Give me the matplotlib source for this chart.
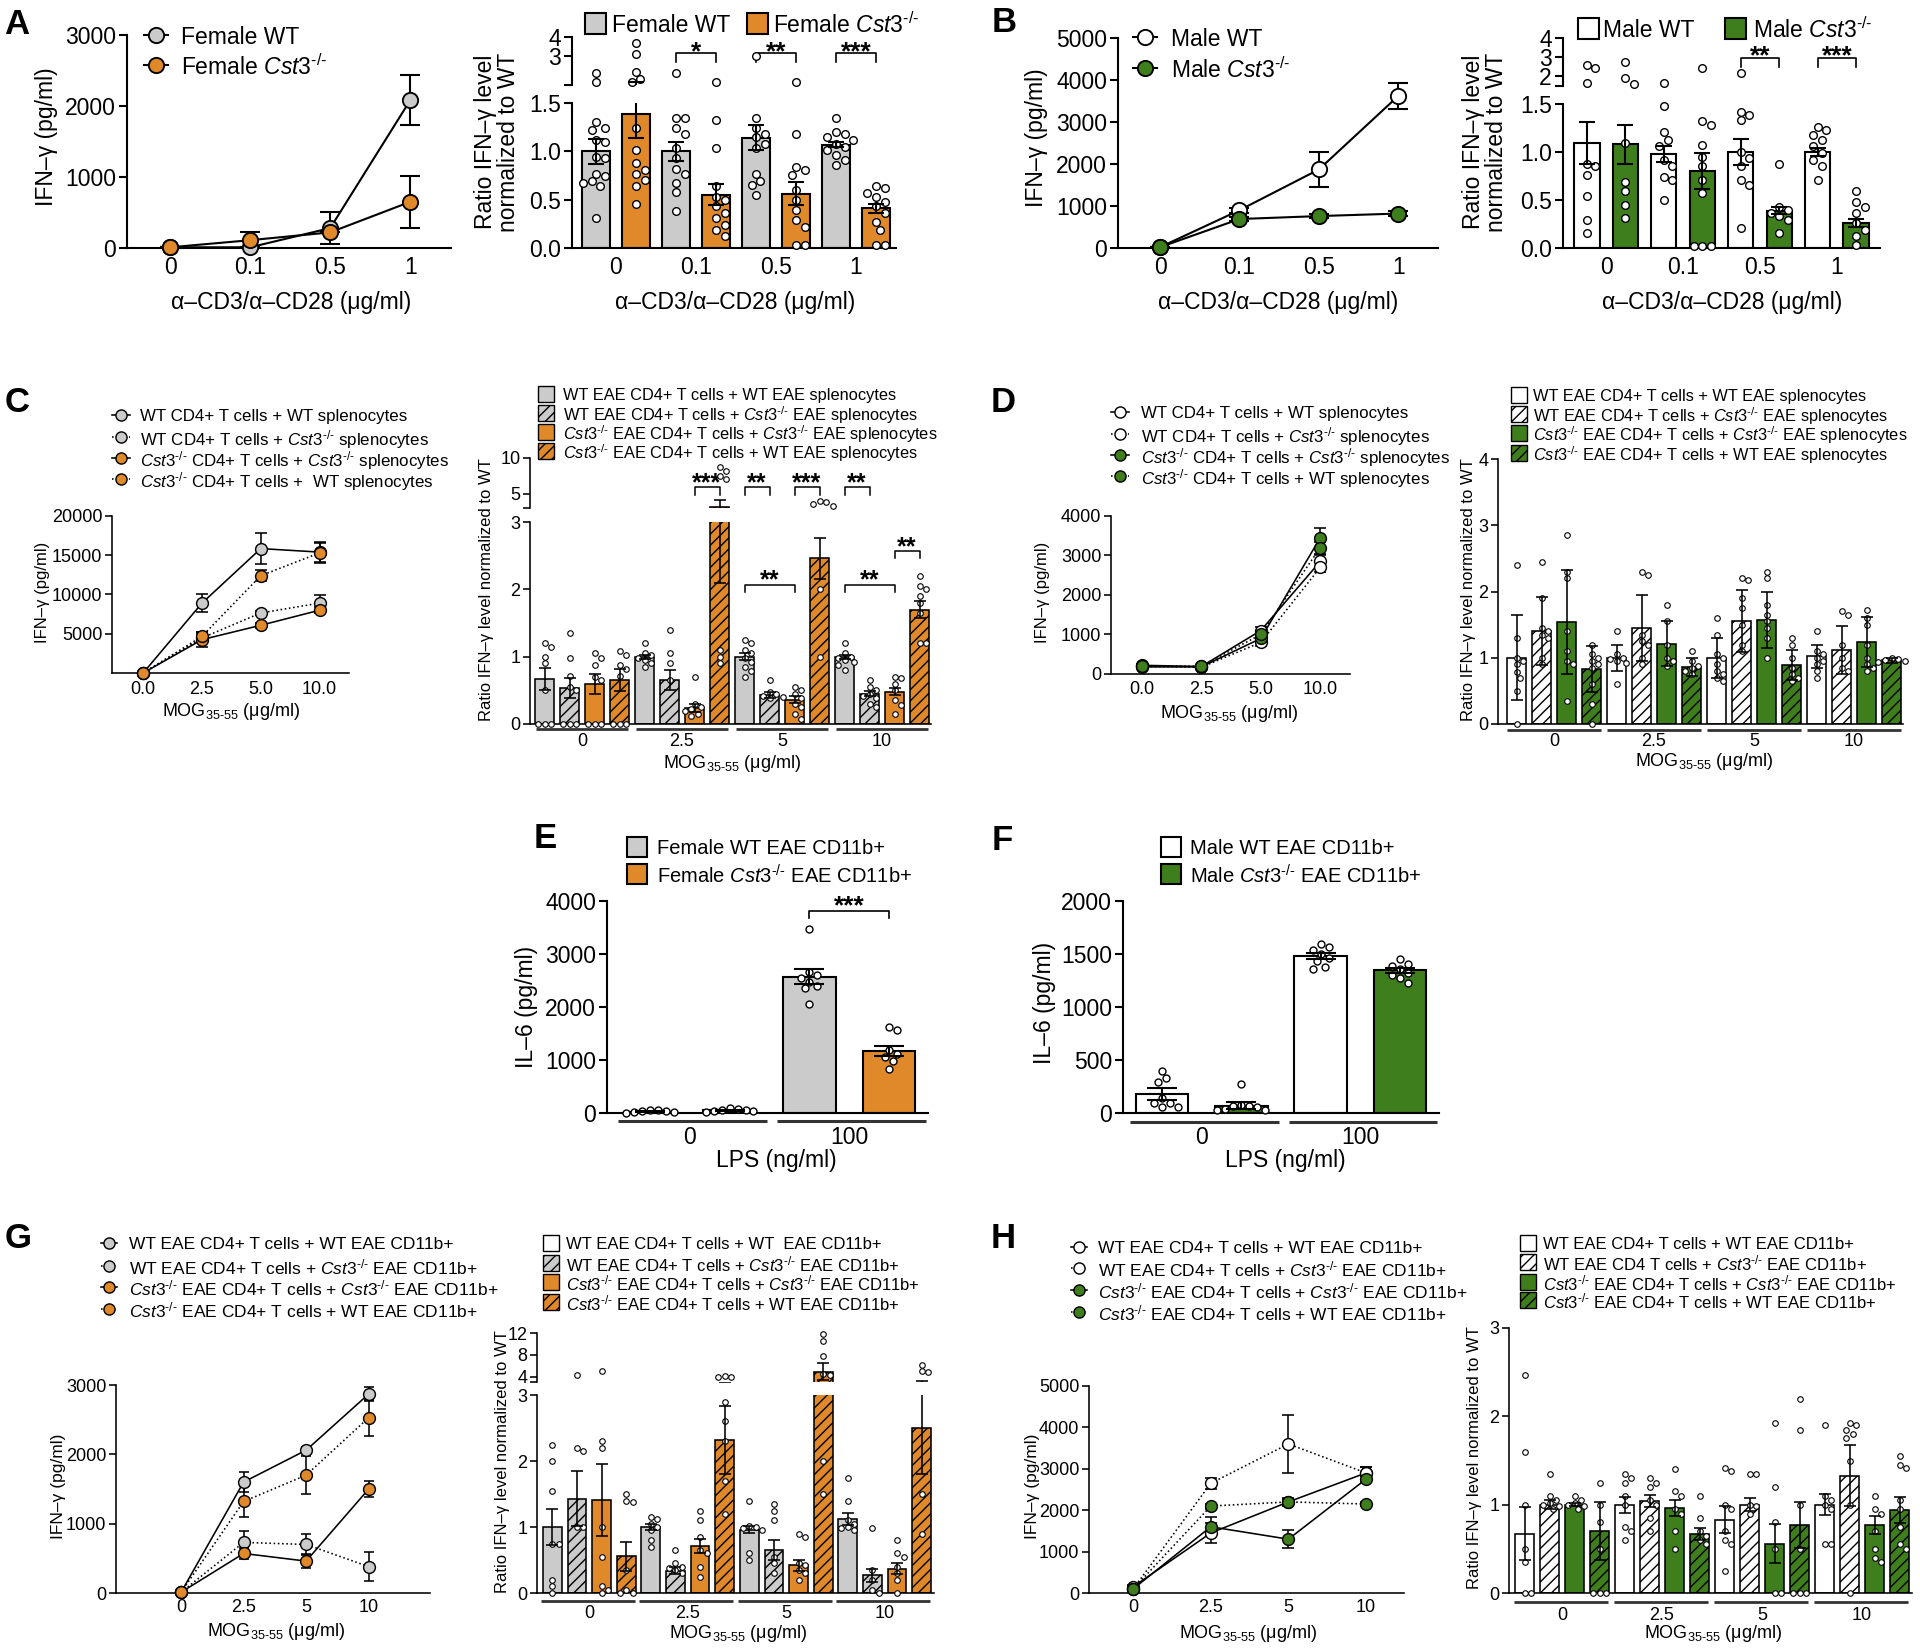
import numpy as np
import matplotlib
matplotlib.use("Agg")
import matplotlib.pyplot as plt
from matplotlib.patches import Rectangle

plt.rcParams['font.family'] = ['Liberation Sans', 'DejaVu Sans']
plt.rcParams['mathtext.fontset'] = 'custom'
plt.rcParams['mathtext.rm'] = 'Liberation Sans'
plt.rcParams['mathtext.it'] = 'Liberation Sans:italic'
plt.rcParams['mathtext.bf'] = 'Liberation Sans:bold'
plt.rcParams['mathtext.sf'] = 'Liberation Sans'
plt.rcParams['hatch.linewidth'] = 1.0

GRAY = '#cbcbcb'
ORANGE = '#e0892b'
GREEN = '#3f7e1d'
WHITE = '#ffffff'
KO = r'$\mathit{Cst3}^{\text{-/-}}$'
MOG = r'MOG$_{\text{35-55}}$ (μg/ml)'
CD3 = 'α–CD3/α–CD28 (μg/ml)'

# ============================ DATA ============================
DOSE_CD3 = ['0', '0.1', '0.5', '1']
MOG_C = ['0.0', '2.5', '5.0', '10.0']
MOG_G = ['0', '2.5', '5', '10']
LPS = ['0', '100']

# ---- A (female) ----
A_wt = [10, 10, 280, 2080]
A_wt_sem = [0, 0, 225, 350]
A_ko = [10, 110, 220, 650]
A_ko_sem = [0, 120, 0, 370]
A_bar_wt = [1.00, 1.00, 1.14, 1.07]
A_bar_wt_sem = [0.13, 0.10, 0.13, 0.03]
A_bar_ko = [1.39, 0.55, 0.56, 0.41]
A_bar_ko_sem = [0.25, 0.11, 0.12, 0.05]
A_dots_wt = [[2.15, 1.64, 1.30, 1.24, 1.22, 1.12, 1.10, 0.94, 0.93, 0.77, 0.74, 0.69, 0.67, 0.64, 0.31],
             [2.15, 1.34, 1.34, 1.24, 1.18, 1.03, 0.93, 0.82, 0.77, 0.67, 0.58, 0.38],
             [3.0, 1.34, 1.24, 1.18, 1.15, 1.08, 1.03, 0.77, 0.69, 0.65, 0.55],
             [1.34, 1.20, 1.18, 1.15, 1.12, 1.08, 1.05, 1.01, 0.96, 0.91, 0.86]]
A_dots_ko = [[3.7, 3.1, 2.2, 1.8, 1.65, 1.24, 1.01, 0.88, 0.81, 0.77, 0.70, 0.64, 0.46],
             [1.64, 1.32, 1.03, 0.64, 0.53, 0.50, 0.43, 0.36, 0.31, 0.24, 0.19, 0.12],
             [1.64, 1.18, 0.84, 0.81, 0.76, 0.60, 0.50, 0.39, 0.29, 0.22, 0.03, 0.03],
             [0.64, 0.62, 0.57, 0.53, 0.48, 0.43, 0.36, 0.27, 0.19, 0.03, 0.03]]

# ---- B (male) ----
B_wt = [20, 900, 1870, 3620]
B_wt_sem = [0, 60, 420, 300]
B_ko = [20, 690, 760, 820]
B_ko_sem = [0, 50, 40, 50]
B_bar_wt = [1.09, 0.98, 1.00, 1.00]
B_bar_wt_sem = [0.22, 0.08, 0.14, 0.04]
B_bar_ko = [1.08, 0.80, 0.39, 0.26]
B_bar_ko_sem = [0.20, 0.19, 0.04, 0.04]
B_dots_wt = [[2.58, 2.42, 1.67, 0.88, 0.85, 0.76, 0.54, 0.29, 0.16],
             [1.67, 1.48, 1.21, 1.13, 1.06, 0.92, 0.85, 0.74, 0.71, 0.50],
             [2.17, 1.42, 1.39, 1.33, 1.00, 0.94, 0.85, 0.71, 0.66, 0.21],
             [1.26, 1.23, 1.18, 1.13, 1.06, 0.99, 0.92, 0.85, 0.71]]
B_dots_ko = [[2.75, 1.92, 1.58, 1.09, 0.69, 0.59, 0.45, 0.31],
             [2.42, 1.32, 1.28, 1.07, 0.95, 0.85, 0.71, 0.57, 0.02, 0.02, 0.02],
             [0.87, 0.43, 0.40, 0.36, 0.33, 0.29, 0.16],
             [0.59, 0.48, 0.43, 0.36, 0.26, 0.19, 0.12, 0.03]]

# ---- C (female co-culture) ----
C_wtwt = [0, 8900, 15850, 15400]
C_wtwt_sem = [0, 1100, 2000, 1300]
C_wtko = [0, 4460, 7650, 8900]
C_wtko_sem = [0, 500, 300, 1000]
C_koko = [0, 4250, 6080, 8000]
C_koko_sem = [0, 1000, 300, 400]
C_kowt = [0, 4670, 12400, 15300]
C_kowt_sem = [0, 500, 700, 1300]
C_bar_wtwt = [0.67, 1.00, 1.00, 1.00]
C_bar_wtwt_sem = [0.16, 0.03, 0.05, 0.03]
C_bar_wtko = [0.53, 0.65, 0.43, 0.45]
C_bar_wtko_sem = [0.15, 0.15, 0.04, 0.04]
C_bar_koko = [0.59, 0.24, 0.36, 0.48]
C_bar_koko_sem = [0.15, 0.06, 0.05, 0.05]
C_bar_kowt = [0.65, 3.10, 2.46, 1.70]
C_bar_kowt_sem = [0.16, 1.00, 0.30, 0.12]
C_dots_wtwt = [[1.2, 1.15, 1.0, 0.9, 0.5, 0, 0, 0], [1.2, 1.05, 1.02, 0.98, 0.95, 0.9, 0.85],
               [1.25, 1.2, 1.1, 1.05, 0.98, 0.92, 0.85, 0.78, 0.7], [1.2, 1.05, 1.0, 0.98, 0.95, 0.92, 0.88, 0.8]]
C_dots_wtko = [[1.35, 0.98, 0.72, 0.55, 0.5, 0, 0, 0], [1.4, 1.05, 0.9, 0.65],
               [0.65, 0.48, 0.45, 0.42, 0.4, 0.38], [0.65, 0.55, 0.5, 0.45, 0.42, 0.38, 0.3, 0.25]]
C_dots_koko = [[1.05, 0.98, 0.88, 0.7, 0.65, 0, 0, 0], [0.7, 0.3, 0.25, 0.22, 0.2, 0.15, 0.12],
               [0.55, 0.5, 0.45, 0.38, 0.3, 0.25, 0.15, 0.08], [0.7, 0.68, 0.6, 0.5, 0.35, 0.28, 0.15]]
C_dots_kowt = [[1.08, 1.02, 0.88, 0.82, 0.72, 0, 0, 0], [8.8, 8.2, 7.5, 7.0, 1.1, 1.0, 0.9],
               [4.0, 3.8, 3.6, 3.3, 2.0, 1.0], [2.2, 2.05, 2.0, 1.9, 1.8, 1.65, 1.2, 1.2]]

# ---- D (male co-culture) ----
D_wtwt = [220, 190, 1100, 2850]
D_wtwt_sem = [30, 20, 100, 150]
D_wtko = [200, 170, 800, 2700]
D_wtko_sem = [30, 20, 80, 130]
D_koko = [180, 180, 900, 3450]
D_koko_sem = [30, 20, 80, 250]
D_kowt = [190, 200, 1000, 3200]
D_kowt_sem = [30, 20, 80, 150]
D_bar_wtwt = [1.00, 1.00, 1.00, 1.02]
D_bar_wtwt_sd = [0.64, 0.20, 0.30, 0.17]
D_bar_wtko = [1.40, 1.45, 1.56, 1.12]
D_bar_wtko_sd = [0.51, 0.50, 0.47, 0.36]
D_bar_koko = [1.54, 1.21, 1.57, 1.24]
D_bar_koko_sd = [0.78, 0.34, 0.43, 0.38]
D_bar_kowt = [0.83, 0.86, 0.89, 0.96]
D_bar_kowt_sd = [0.34, 0.13, 0.23, 0.04]
D_dots_wtwt = [[2.4, 1.3, 1.0, 0.95, 0.9, 0.78, 0.7, 0.5, 0.0], [1.4, 1.05, 1.0, 0.98, 0.95, 0.92, 0.6],
               [1.6, 1.35, 1.05, 1.0, 0.9, 0.8, 0.75, 0.7, 0.65], [1.4, 1.1, 1.05, 1.0, 0.95, 0.9, 0.8, 0.7]]
D_dots_wtko = [[2.45, 1.9, 1.45, 1.4, 1.35, 1.3, 1.0, 0.9], [2.3, 2.25, 1.35, 1.25, 1.2, 1.0, 0.9],
               [2.2, 2.18, 1.9, 1.75, 1.5, 1.2, 1.1], [1.7, 1.65, 1.2, 1.0, 0.85, 0.8]]
D_dots_koko = [[2.85, 2.3, 2.2, 1.4, 1.1, 0.95, 0.9, 0.35], [1.8, 1.55, 1.2, 1.0, 0.95, 0.88],
               [2.3, 2.2, 1.8, 1.65, 1.55, 1.45, 1.3, 1.0], [1.72, 1.6, 1.5, 1.2, 1.0, 0.9, 0.85, 0.8]]
D_dots_kowt = [[1.2, 1.05, 1.0, 0.95, 0.9, 0.85, 0.6, 0.3, 0.0], [1.1, 0.95, 0.88, 0.85, 0.8, 0.75],
               [1.3, 1.2, 1.0, 0.85, 0.75, 0.7, 0.65], [1.0, 0.98, 0.96, 0.95, 0.93]]

# ---- E / F (IL-6) ----
E_wt = [20, 2570]
E_wt_sem = [10, 140]
E_ko = [50, 1170]
E_ko_sem = [10, 100]
E_dots_wt = [[0, 10, 20, 30, 50, 60, 40], [3480, 2660, 2600, 2550, 2480, 2400, 2350, 2050]]
E_dots_ko = [[20, 40, 60, 80, 100, 30, 50], [1620, 1560, 1180, 1120, 1050, 980, 830]]
F_wt = [180, 1480]
F_wt_sem = [55, 30]
F_ko = [70, 1345]
F_ko_sem = [30, 20]
F_dots_wt = [[400, 330, 290, 140, 90, 60, 60, 90], [1590, 1570, 1540, 1500, 1460, 1430, 1380, 1360]]
F_dots_ko = [[270, 75, 65, 40, 25, 70, 55, 30], [1450, 1410, 1390, 1360, 1320, 1300, 1270, 1230]]

# ---- G (female CD11b co-culture) ----
G_wtwt = [10, 1600, 2060, 2870]
G_wtwt_sem = [0, 150, 40, 100]
G_wtko = [10, 730, 700, 380]
G_wtko_sem = [0, 170, 150, 210]
G_koko = [10, 570, 460, 1500]
G_koko_sem = [0, 80, 100, 110]
G_kowt = [10, 1320, 1700, 2530]
G_kowt_sem = [0, 230, 270, 260]
G_bar_wtwt = [1.00, 1.00, 0.96, 1.12]
G_bar_wtwt_sem = [0.27, 0.05, 0.05, 0.09]
G_bar_wtko = [1.43, 0.34, 0.65, 0.27]
G_bar_wtko_sem = [0.42, 0.05, 0.15, 0.10]
G_bar_koko = [1.41, 0.71, 0.42, 0.37]
G_bar_koko_sem = [0.55, 0.11, 0.08, 0.08]
G_bar_kowt = [0.56, 2.32, 4.9, 2.50]
G_bar_kowt_sem = [0.22, 0.52, 1.6, 0.70]
G_dots_wtwt = [[2.25, 2.0, 1.55, 0.75, 0.75, 0.2, 0.1, 0.0], [1.15, 1.12, 1.05, 1.0, 0.95, 0.8, 0.7],
               [1.4, 1.02, 1.0, 0.98, 0.95, 0.6, 0.5], [1.75, 1.4, 1.1, 1.05, 1.0, 0.98, 0.95]]
G_dots_wtko = [[4.3, 2.2, 2.15, 1.0, 1.0], [0.65, 0.45, 0.4, 0.38, 0.35, 0.3],
               [1.35, 1.25, 1.1, 0.55, 0.45, 0.3], [0.98, 0.35, 0.2, 0.05, 0.0]]
G_dots_koko = [[5.1, 2.3, 2.2, 1.0, 0.55, 0.1, 0.05, 0.0], [1.25, 1.1, 0.85, 0.65, 0.6, 0.4, 0.25],
               [0.9, 0.85, 0.45, 0.42, 0.35, 0.3, 0.2], [0.8, 0.6, 0.55, 0.4, 0.3, 0.2, 0.0]]
G_dots_kowt = [[1.5, 1.4, 1.38, 0.35, 0.05, 0.0, 0.0], [4.1, 4.0, 3.9, 2.9, 2.6, 2.3, 1.7, 1.2],
               [11.8, 10.6, 7.7, 4.5, 4.2, 2.0, 1.5], [6.2, 5.0, 4.9, 1.5, 0.9]]

# ---- H (male CD11b co-culture) ----
H_wtwt = [150, 1450, 2200, 2900]
H_wtwt_sem = [40, 250, 100, 150]
H_wtko = [100, 2650, 3600, 2900]
H_wtko_sem = [30, 130, 700, 150]
H_koko = [100, 1600, 1300, 2750]
H_koko_sem = [30, 230, 220, 80]
H_kowt = [100, 2100, 2200, 2150]
H_kowt_sem = [30, 60, 80, 60]
H_bar_wtwt = [0.67, 1.00, 0.83, 1.00]
H_bar_wtwt_sem = [0.30, 0.09, 0.15, 0.12]
H_bar_wtko = [1.00, 1.04, 1.00, 1.33]
H_bar_wtko_sem = [0.05, 0.07, 0.07, 0.35]
H_bar_koko = [1.00, 0.96, 0.56, 0.77]
H_bar_koko_sem = [0.02, 0.09, 0.22, 0.10]
H_bar_kowt = [0.70, 0.67, 0.77, 0.94]
H_bar_kowt_sem = [0.33, 0.07, 0.26, 0.15]
H_dots_wtwt = [[2.47, 1.6, 1.0, 0.5, 0.35, 0.0, 0.0], [1.35, 1.3, 1.25, 1.1, 1.0, 0.75, 0.7, 0.6],
               [1.42, 1.38, 1.0, 0.95, 0.7, 0.6, 0.55, 0.25], [1.9, 1.1, 1.05, 1.0, 0.95, 0.55, 0.55]]
H_dots_wtko = [[1.35, 1.1, 1.05, 1.02, 1.0, 0.98, 0.95], [1.3, 1.25, 1.2, 1.05, 1.0, 0.85, 0.7],
               [1.35, 1.35, 1.0, 0.98, 0.9], [1.92, 1.9, 1.85, 1.8, 1.75, 1.5, 1.0, 0.0]]
H_dots_koko = [[1.1, 1.05, 1.02, 1.0, 0.98, 0.95], [1.4, 1.15, 1.1, 0.95, 0.9, 0.7, 0.5],
               [1.92, 1.2, 0.8, 0.5, 0.0, 0.0], [1.1, 0.95, 0.9, 0.7, 0.5, 0.4, 0.35]]
H_dots_kowt = [[1.25, 1.0, 0.8, 0.5, 0.0, 0.0, 0.0], [1.1, 0.85, 0.7, 0.65, 0.6, 0.55],
               [2.2, 1.85, 1.0, 0.5, 0.0, 0.0, 0.0], [1.55, 1.45, 1.42, 1.05, 0.95, 0.75, 0.55, 0.5]]

# ============================ FIGURE ============================
W, H = 1920, 1652
fig = plt.figure(figsize=(W / 100, H / 100), dpi=100)
ov = fig.add_axes([0, 0, 1, 1])
ov.set_xlim(0, W)
ov.set_ylim(H, 0)
ov.axis('off')
ov.patch.set_alpha(0)


def add_ax(l, t, r, b, lw, tl):
    ax = fig.add_axes([l / W, 1 - b / H, (r - l) / W, (b - t) / H])
    ax.patch.set_alpha(0)
    for s in ['top', 'right']:
        ax.spines[s].set_visible(False)
    for s in ['left', 'bottom']:
        ax.spines[s].set_linewidth(lw)
    ax.tick_params(axis='y', direction='out', length=tl, width=lw, pad=2)
    ax.tick_params(axis='x', length=0)
    return ax


def T(x, y, s, fs, **kw):
    kw.setdefault('ha', 'center')
    kw.setdefault('va', 'center')
    ov.text(x, y, s, fontsize=fs, **kw)


def line_panel(box, xlim, ylim, yticks, ytl, series, labels, lab_y, fs, ms, cap, lw, tl):
    l, t, r, b = box
    ax = add_ax(l, t, r, b, lw, tl)
    x = np.arange(len(labels))
    for s in series:
        ax.errorbar(x, s['y'], yerr=s['e'], fmt='none', ecolor='k', elinewidth=lw,
                    capsize=cap, capthick=lw, zorder=3)
        ax.plot(x, s['y'], ls=s['ls'], color='k', lw=lw, marker='o', ms=ms, mfc=s['fc'],
                mec='k', mew=lw * 0.9, clip_on=False, zorder=4)
    ax.set_xlim(xlim)
    ax.set_ylim(ylim)
    ax.set_xticks([])
    ax.set_yticks(yticks)
    ax.set_yticklabels(ytl, fontsize=fs)
    xppu = (r - l) / (xlim[1] - xlim[0])
    for i, lab in enumerate(labels):
        T(l + (i - xlim[0]) * xppu, lab_y, lab, fs)
    return ax


def swarm(ypx, d):
    n = len(ypx)
    off = np.zeros(n)
    cands = [0.0]
    for k in range(1, 20):
        cands += [k * d * 0.5, -k * d * 0.5]
    placed = []
    for i in np.argsort(ypx):
        for c in cands:
            if all((c - px) ** 2 + (ypx[i] - py) ** 2 >= d * d * 0.9 for px, py in placed):
                off[i] = c
                placed.append((c, ypx[i]))
                break
    return off


def bar_panel(l, r, segs, xlim, gpos, offs, width, series, fs, lw, tl, cap, dms, dlw,
              labels, lab_y, glines=None):
    axes = []
    for i, (t, b, ylim, yt, ytl) in enumerate(segs):
        ax = add_ax(l, t, r, b, lw, tl)
        ax.set_xlim(xlim)
        ax.set_ylim(ylim)
        ax.set_yticks(yt)
        ax.set_yticklabels(ytl, fontsize=fs)
        ax.set_xticks([])
        if i > 0:
            ax.spines['bottom'].set_visible(False)
        axes.append(ax)
    xppu = (r - l) / (xlim[1] - xlim[0])

    def seg_of(v):
        for i, s in enumerate(segs):
            if v <= s[2][1] + 1e-9:
                return i
        return len(segs) - 1

    def y2px(v):
        t, b, ylim = segs[seg_of(v)][:3]
        return b - (v - ylim[0]) * (b - t) / (ylim[1] - ylim[0])

    def x2px(x):
        return l + (x - xlim[0]) * xppu

    dpx = dms * 100 / 72 + 1
    for k, s in enumerate(series):
        xs = np.asarray(gpos, float) + offs[k]
        for ax in axes:
            ax.bar(xs, s['m'], width, color=s['fc'], edgecolor='k', linewidth=lw,
                   hatch=s['h'], zorder=2)
            ax.errorbar(xs, s['m'], yerr=s['e'], fmt='none', ecolor='k', elinewidth=lw,
                        capsize=cap, capthick=lw, zorder=4)
        pts = [[[], []] for _ in segs]
        for g, vals in enumerate(s['d']):
            vals = np.asarray(vals, float)
            ypx = np.array([y2px(v) for v in vals])
            off = swarm(ypx, dpx)
            for v, o in zip(vals, off):
                si = seg_of(v)
                pts[si][0].append(xs[g] + o / xppu)
                pts[si][1].append(v)
        for si, ax in enumerate(axes):
            if pts[si][0]:
                ax.plot(pts[si][0], pts[si][1], 'o', ms=dms, mfc='white', mec='k', mew=dlw,
                        clip_on=False, zorder=3)
    for g, lab in zip(gpos, labels):
        T(x2px(g), lab_y, lab, fs)
    if glines is not None:
        lo, hi, gy, glw = glines
        for g in gpos:
            ov.plot([x2px(g + lo), x2px(g + hi)], [gy, gy], color='#333333', lw=glw,
                    solid_capstyle='butt')
    return x2px, y2px


def bracket(x2px, x1, x2, ytop, ybot, star_y, txt, fs, lw):
    p1, p2 = x2px(x1), x2px(x2)
    ov.plot([p1, p1, p2, p2], [ybot, ytop, ytop, ybot], color='k', lw=lw)
    em = fs * 100 / 72
    ov.text((p1 + p2) / 2, star_y + 0.58 * em, txt, fontsize=fs, ha='center',
            va='baseline', fontweight='bold')


def leg_bar(xc, ys, labels, fcs, hatches, sq, tx, fs, lw):
    for y, lab, fc, h in zip(ys, labels, fcs, hatches):
        ov.add_patch(Rectangle((xc - sq / 2, y - sq / 2), sq, sq, facecolor=fc, edgecolor='k',
                               lw=lw, hatch=h))
        ov.text(tx, y, lab, fontsize=fs, ha='left', va='center_baseline')


def leg_line(xc, ys, labels, fcs, lss, ms, seg, tx, fs, lw):
    for y, lab, fc, ls in zip(ys, labels, fcs, lss):
        ov.plot([xc - seg, xc + seg], [y, y], ls=ls, color='k', lw=lw)
        ov.plot([xc], [y], 'o', ms=ms, mfc=fc, mec='k', mew=lw * 0.9)
        ov.text(tx, y, lab, fontsize=fs, ha='left', va='center_baseline')


PL = 25  # panel letter size
for lab, x, y in [('A', 17, 25), ('B', 1004, 22), ('C', 17, 403), ('D', 1003, 402),
                  ('E', 545, 838), ('F', 1002, 840), ('G', 18, 1238), ('H', 1003, 1238)]:
    T(x, y, lab, PL, fontweight='bold')

# ---------------- A ----------------
fsA = 16.5
line_panel((127, 35, 451, 248), (-0.54, 3.51), (0, 3000), [0, 1000, 2000, 3000],
           ['0', '1000', '2000', '3000'],
           [dict(y=A_wt, e=A_wt_sem, fc=GRAY, ls='-'), dict(y=A_ko, e=A_ko_sem, fc=ORANGE, ls='-')],
           DOSE_CD3, 268, fsA, 11, 7, 1.5, 6)
T(46, 137, 'IFN–γ (pg/ml)', fsA, rotation=90)
T(291, 302, CD3, fsA)
leg_line(156, [35, 65], ['Female WT', 'Female ' + KO], [GRAY, ORANGE], ['-', '-'], 11, 12, 181, fsA, 1.5)

segsA = [(103, 248, (0, 1.5), [0, 0.5, 1.0, 1.5], ['0.0', '0.5', '1.0', '1.5']),
         (37, 85, (1.5, 4), [1.5, 3, 4], ['', '3', '4'])]
xA, yA = bar_panel(572, 896, segsA, (-0.55, 3.5), [0, 1, 2, 3], [-0.25, 0.25], 0.35,
                   [dict(m=A_bar_wt, e=A_bar_wt_sem, fc=GRAY, h=None, d=A_dots_wt),
                    dict(m=A_bar_ko, e=A_bar_ko_sem, fc=ORANGE, h=None, d=A_dots_ko)],
                   fsA, 1.5, 6, 5.5, 5.5, 1.0, DOSE_CD3, 268)
T(497, 142, 'Ratio IFN–γ level\nnormalized to WT', fsA, rotation=90, linespacing=1.0)
T(735, 302, CD3, fsA)
for g, s in [(1, '*'), (2, '**'), (3, '***')]:
    bracket(xA, g - 0.25, g + 0.25, 53, 62, 44, s, 19, 1.2)
leg_bar(595, [23], ['Female WT'], [GRAY], [None], 21, 612, fsA, 1.5)
leg_bar(757, [23], ['Female ' + KO], [ORANGE], [None], 21, 773, fsA, 1.5)

# ---------------- B ----------------
line_panel((1118, 38, 1438, 248), (-0.53, 3.5), (0, 5000), [0, 1000, 2000, 3000, 4000, 5000],
           ['0', '1000', '2000', '3000', '4000', '5000'],
           [dict(y=B_wt, e=B_wt_sem, fc=WHITE, ls='-'), dict(y=B_ko, e=B_ko_sem, fc=GREEN, ls='-')],
           DOSE_CD3, 268, fsA, 11, 7, 1.5, 6)
T(1037, 138, 'IFN–γ (pg/ml)', fsA, rotation=90)
T(1278, 302, CD3, fsA)
leg_line(1145, [37, 68], ['Male WT', 'Male ' + KO], [WHITE, GREEN], ['-', '-'], 11, 12, 1171, fsA, 1.5)

segsB = [(104, 248, (0, 1.5), [0, 0.5, 1.0, 1.5], ['0.0', '0.5', '1.0', '1.5']),
         (38, 86, (1.5, 4), [1.5, 2, 3, 4], ['', '2', '3', '4'])]
xB, yB = bar_panel(1563, 1880, segsB, (-0.56, 3.56), [0, 1, 2, 3], [-0.25, 0.25], 0.33,
                   [dict(m=B_bar_wt, e=B_bar_wt_sem, fc=WHITE, h=None, d=B_dots_wt),
                    dict(m=B_bar_ko, e=B_bar_ko_sem, fc=GREEN, h=None, d=B_dots_ko)],
                   fsA, 1.5, 6, 5.5, 5.5, 1.0, DOSE_CD3, 268)
T(1485, 142, 'Ratio IFN–γ level\nnormalized to WT', fsA, rotation=90, linespacing=1.0)
T(1722, 302, CD3, fsA)
for g, s in [(2, '**'), (3, '***')]:
    bracket(xB, g - 0.25, g + 0.25, 58, 67, 48, s, 19, 1.2)
leg_bar(1588, [28], ['Male WT'], [WHITE], [None], 21, 1603, fsA, 1.5)
leg_bar(1735, [28], ['Male ' + KO], [GREEN], [None], 21, 1753, fsA, 1.5)

# ---------------- C ----------------
fsC = 13
lw2 = 1.15
CO_LAB = ['WT CD4+ T cells + WT splenocytes',
          'WT CD4+ T cells + ' + KO + ' splenocytes',
          KO + ' CD4+ T cells + ' + KO + ' splenocytes',
          KO + ' CD4+ T cells +  WT splenocytes']
CO_LAB_D = ['WT CD4+ T cells + WT splenocytes',
            'WT CD4+ T cells + ' + KO + ' splenocytes',
            KO + ' CD4+ T cells + ' + KO + ' splenocytes',
            KO + ' CD4+ T cells + WT splenocytes']
EAE_LAB = ['WT EAE CD4+ T cells + WT EAE splenocytes',
           'WT EAE CD4+ T cells + ' + KO + ' EAE splenocytes',
           KO + ' EAE CD4+ T cells + ' + KO + ' EAE splenocytes',
           KO + ' EAE CD4+ T cells + WT EAE splenocytes']
line_panel((112, 516, 349, 673), (-0.53, 3.5), (0, 20000), [5000, 10000, 15000, 20000],
           ['5000', '10000', '15000', '20000'],
           [dict(y=C_wtwt, e=C_wtwt_sem, fc=GRAY, ls='-'), dict(y=C_wtko, e=C_wtko_sem, fc=GRAY, ls=':'),
            dict(y=C_koko, e=C_koko_sem, fc=ORANGE, ls='-'), dict(y=C_kowt, e=C_kowt_sem, fc=ORANGE, ls=':')],
           MOG_C, 689, fsC, 8.5, 4.5, lw2, 5)
T(42, 592, 'IFN–γ (pg/ml)', 12, rotation=90)
T(231, 712, MOG, fsC)
leg_line(121, [415, 437, 458, 479], CO_LAB, [GRAY, GRAY, ORANGE, ORANGE], ['-', ':', '-', ':'],
         8, 9, 140, 12.2, lw2)

segsC = [(522, 724, (0, 3), [0, 1, 2, 3], ['0', '1', '2', '3']),
         (458, 508, (3, 10), [3, 5, 10], ['', '5', '10'])]
OFF4 = [-0.375, -0.125, 0.125, 0.375]
xC, yC = bar_panel(530, 931, segsC, (-0.52, 3.49), [0, 1, 2, 3], OFF4, 0.19,
                   [dict(m=C_bar_wtwt, e=C_bar_wtwt_sem, fc=GRAY, h=None, d=C_dots_wtwt),
                    dict(m=C_bar_wtko, e=C_bar_wtko_sem, fc=GRAY, h='///', d=C_dots_wtko),
                    dict(m=C_bar_koko, e=C_bar_koko_sem, fc=ORANGE, h=None, d=C_dots_koko),
                    dict(m=C_bar_kowt, e=C_bar_kowt_sem, fc=ORANGE, h='///', d=C_dots_kowt)],
                   fsC, lw2, 5, 4.0, 4.0, 0.8, MOG_G, 741, glines=(-0.46, 0.46, 729, 2.0))
T(487, 590, 'Ratio IFN–γ level normalized to WT', 12, rotation=90)
T(732, 763, MOG, fsC)
for g, i1, i2, s in [(1, 2, 3, '***'), (2, 0, 1, '**'), (2, 2, 3, '***'), (3, 0, 1, '**')]:
    bracket(xC, g + OFF4[i1], g + OFF4[i2], 487, 495, 476, s, 18, 1.1)
bracket(xC, 2 + OFF4[0], 2 + OFF4[2], 585, 592, 573, '**', 18, 1.1)
bracket(xC, 3 + OFF4[0], 3 + OFF4[2], 585, 592, 573, '**', 18, 1.1)
bracket(xC, 3 + OFF4[2], 3 + OFF4[3], 551, 558, 540, '**', 18, 1.1)
leg_bar(546, [394, 413, 432, 451], EAE_LAB, [GRAY, GRAY, ORANGE, ORANGE], [None, '///', None, '///'],
        16, 563, 11.8, 1.0)

# ---------------- D ----------------
line_panel((1111, 516, 1350, 674), (-0.52, 3.5), (0, 4000), [0, 1000, 2000, 3000, 4000],
           ['0', '1000', '2000', '3000', '4000'],
           [dict(y=D_wtwt, e=D_wtwt_sem, fc=WHITE, ls='-'), dict(y=D_wtko, e=D_wtko_sem, fc=WHITE, ls=':'),
            dict(y=D_koko, e=D_koko_sem, fc=GREEN, ls='-'), dict(y=D_kowt, e=D_kowt_sem, fc=GREEN, ls=':')],
           MOG_C, 689, fsC, 8.5, 4.5, lw2, 5)
T(1043, 592, 'IFN–γ (pg/ml)', 12, rotation=90)
T(1229, 713, MOG, fsC)
leg_line(1120, [412, 434, 455, 476], CO_LAB_D, [WHITE, WHITE, GREEN, GREEN], ['-', ':', '-', ':'],
         8, 9, 1141, 12.2, lw2)

segsD = [(459, 724, (0, 4), [0, 1, 2, 3, 4], ['0', '1', '2', '3', '4'])]
bar_panel(1498, 1903, segsD, (-0.56, 3.49), [0, 1, 2, 3], OFF4, 0.19,
          [dict(m=D_bar_wtwt, e=D_bar_wtwt_sd, fc=WHITE, h=None, d=D_dots_wtwt),
           dict(m=D_bar_wtko, e=D_bar_wtko_sd, fc=WHITE, h='///', d=D_dots_wtko),
           dict(m=D_bar_koko, e=D_bar_koko_sd, fc=GREEN, h=None, d=D_dots_koko),
           dict(m=D_bar_kowt, e=D_bar_kowt_sd, fc=GREEN, h='///', d=D_dots_kowt)],
          fsC, lw2, 5, 4.0, 4.0, 0.8, MOG_G, 742, glines=(-0.47, 0.47, 730, 2.0))
T(1468, 590, 'Ratio IFN–γ level normalized to WT', 12, rotation=90)
T(1704, 762, MOG, fsC)
leg_bar(1519, [395, 414, 433, 453], EAE_LAB, [WHITE, WHITE, GREEN, GREEN], [None, '///', None, '///'],
        16, 1533, 11.8, 1.0)

# ---------------- E ----------------
fsE = 16.5
segsE = [(901, 1113, (0, 4000), [0, 1000, 2000, 3000, 4000], ['0', '1000', '2000', '3000', '4000'])]
xE, yE = bar_panel(607, 928, segsE, (-0.54, 3.49), [0.5, 2.5], [-0.5, 0.5], 0.66,
                   [dict(m=E_wt, e=E_wt_sem, fc=GRAY, h=None, d=E_dots_wt),
                    dict(m=E_ko, e=E_ko_sem, fc=ORANGE, h=None, d=E_dots_ko)],
                   fsE, 1.5, 6, 11, 5.0, 1.0, LPS, 1137, glines=(-0.9, 0.97, 1121, 2.2))
T(527, 1007, 'IL–6 (pg/ml)', fsE, rotation=90)
T(776, 1160, 'LPS (ng/ml)', fsE)
bracket(xE, 2, 3, 911, 918, 898, '***', 19, 1.2)
leg_bar(637, [847, 874], ['Female WT EAE CD11b+', 'Female ' + KO + ' EAE CD11b+'], [GRAY, ORANGE],
        [None, None], 20, 657, 14.5, 1.5)

# ---------------- F ----------------
segsF = [(901, 1113, (0, 2000), [0, 500, 1000, 1500, 2000], ['0', '500', '1000', '1500', '2000'])]
bar_panel(1123, 1439, segsF, (-0.49, 3.49), [0.5, 2.5], [-0.5, 0.5], 0.66,
          [dict(m=F_wt, e=F_wt_sem, fc=WHITE, h=None, d=F_dots_wt),
           dict(m=F_ko, e=F_ko_sem, fc=GREEN, h=None, d=F_dots_ko)],
          fsE, 1.5, 6, 11, 5.0, 1.0, LPS, 1137, glines=(-0.9, 0.97, 1122, 2.2))
T(1045, 1003, 'IL–6 (pg/ml)', fsE, rotation=90)
T(1285, 1160, 'LPS (ng/ml)', fsE)
leg_bar(1171, [847, 874], ['Male WT EAE CD11b+', 'Male ' + KO + ' EAE CD11b+'], [WHITE, GREEN],
        [None, None], 20, 1190, 14.5, 1.5)

# ---------------- G ----------------
GL = ['WT EAE CD4+ T cells + WT EAE CD11b+',
      'WT EAE CD4+ T cells + ' + KO + ' EAE CD11b+',
      KO + ' EAE CD4+ T cells + ' + KO + ' EAE CD11b+',
      KO + ' EAE CD4+ T cells + WT EAE CD11b+']
line_panel((116, 1385, 430, 1593), (-1.04, 3.98), (0, 3000), [0, 1000, 2000, 3000],
           ['0', '1000', '2000', '3000'],
           [dict(y=G_wtwt, e=G_wtwt_sem, fc=GRAY, ls='-'), dict(y=G_wtko, e=G_wtko_sem, fc=GRAY, ls=':'),
            dict(y=G_koko, e=G_koko_sem, fc=ORANGE, ls='-'), dict(y=G_kowt, e=G_kowt_sem, fc=ORANGE, ls=':')],
           MOG_G, 1607, fsC, 8.5, 3.8, lw2, 5)
T(58, 1486, 'IFN–γ (pg/ml)', 12.5, rotation=90)
T(276, 1632, MOG, fsC)
leg_line(109, [1243, 1266, 1287, 1309], GL, [GRAY, GRAY, ORANGE, ORANGE], ['-', ':', '-', ':'],
         8, 8, 129, 12.5, lw2)

segsG = [(1395, 1593, (0, 3), [0, 1, 2, 3], ['0', '1', '2', '3']),
         (1333, 1382, (3, 12), [3, 4, 8, 12], ['', '4', '8', '12'])]
bar_panel(537, 934, segsG, (-0.53, 3.5), [0, 1, 2, 3], OFF4, 0.19,
          [dict(m=G_bar_wtwt, e=G_bar_wtwt_sem, fc=GRAY, h=None, d=G_dots_wtwt),
           dict(m=G_bar_wtko, e=G_bar_wtko_sem, fc=GRAY, h='///', d=G_dots_wtko),
           dict(m=G_bar_koko, e=G_bar_koko_sem, fc=ORANGE, h=None, d=G_dots_koko),
           dict(m=G_bar_kowt, e=G_bar_kowt_sem, fc=ORANGE, h='///', d=G_dots_kowt)],
          fsC, lw2, 5, 4.0, 4.0, 0.8, MOG_G, 1613, glines=(-0.49, 0.46, 1601, 2.0))
T(502, 1462, 'Ratio IFN–γ level normalized to WT', 12, rotation=90)
T(738, 1633, MOG, fsC)
GBL = ['WT EAE CD4+ T cells + WT  EAE CD11b+'] + GL[1:]
leg_bar(551, [1243, 1263, 1282, 1302], GBL, [WHITE, GRAY, ORANGE, ORANGE], [None, '///', None, '///'],
        16, 566, 12, 1.0)

# ---------------- H ----------------
line_panel((1089, 1386, 1404, 1593), (-0.57, 3.49), (0, 5000), [0, 1000, 2000, 3000, 4000, 5000],
           ['0', '1000', '2000', '3000', '4000', '5000'],
           [dict(y=H_wtwt, e=H_wtwt_sem, fc=WHITE, ls='-'), dict(y=H_wtko, e=H_wtko_sem, fc=WHITE, ls=':'),
            dict(y=H_koko, e=H_koko_sem, fc=GREEN, ls='-'), dict(y=H_kowt, e=H_kowt_sem, fc=GREEN, ls=':')],
           MOG_G, 1608, fsC, 8.5, 4.0, lw2, 5)
T(1032, 1486, 'IFN–γ (pg/ml)', 12.5, rotation=90)
T(1248, 1633, MOG, fsC)
leg_line(1079, [1247, 1268, 1290, 1312], GL, [WHITE, WHITE, GREEN, GREEN], ['-', ':', '-', ':'],
         8, 8, 1098, 12.5, lw2)

segsH = [(1328, 1593, (0, 3), [0, 1, 2, 3], ['0', '1', '2', '3'])]
bar_panel(1509, 1912, segsH, (-0.53, 3.5), [0, 1, 2, 3], OFF4, 0.19,
          [dict(m=H_bar_wtwt, e=H_bar_wtwt_sem, fc=WHITE, h=None, d=H_dots_wtwt),
           dict(m=H_bar_wtko, e=H_bar_wtko_sem, fc=WHITE, h='///', d=H_dots_wtko),
           dict(m=H_bar_koko, e=H_bar_koko_sem, fc=GREEN, h=None, d=H_dots_koko),
           dict(m=H_bar_kowt, e=H_bar_kowt_sem, fc=GREEN, h='///', d=H_dots_kowt)],
          fsC, lw2, 5, 4.0, 4.0, 0.8, MOG_G, 1615, glines=(-0.48, 0.46, 1602, 2.0))
T(1474, 1458, 'Ratio IFN–γ level normalized to WT', 12, rotation=90)
T(1713, 1633, MOG, fsC)
HBL = ['WT EAE CD4+ T cells + WT EAE CD11b+', 'WT EAE CD4 T cells + ' + KO + ' EAE CD11b+'] + GL[2:]
leg_bar(1528, [1243, 1262, 1282, 1300], HBL, [WHITE, WHITE, GREEN, GREEN], [None, '///', None, '///'],
        16, 1543, 12, 1.0)

fig.savefig('out.png', dpi=100)
